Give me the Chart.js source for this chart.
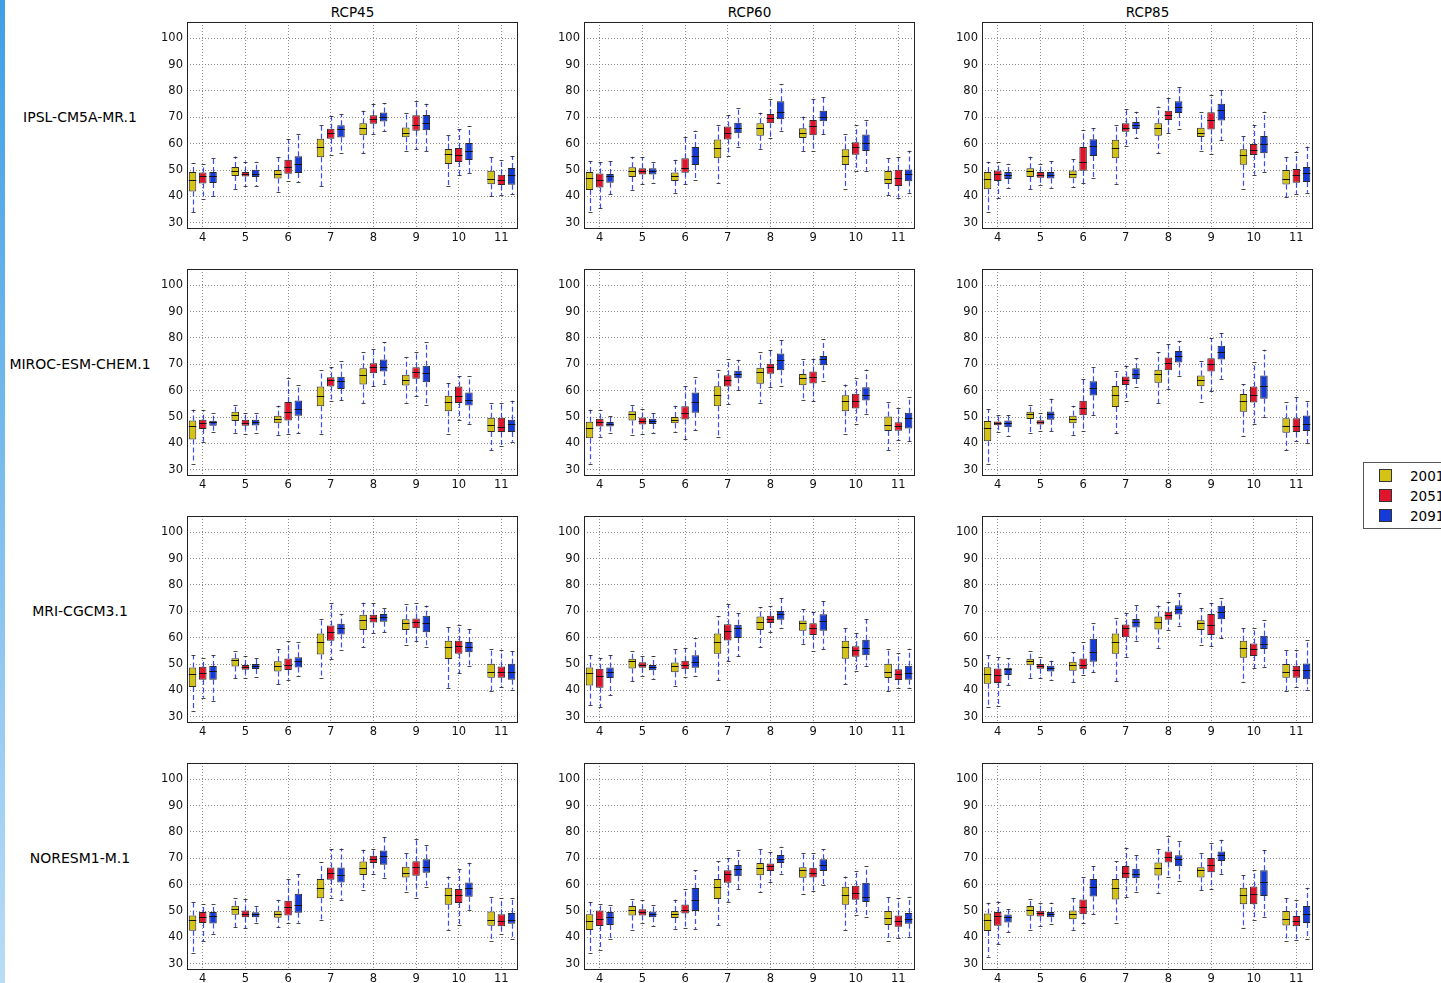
<!DOCTYPE html>
<html>
<head>
<meta charset="utf-8">
<script src="https://cdn.jsdelivr.net/npm/chart.js@4.4.1/dist/chart.umd.min.js"></script>
<style>
  html, body { margin: 0; padding: 0; background: #fff; overflow: hidden; }
  body { width: 1441px; height: 983px; position: relative; font-family: "DejaVu Sans", sans-serif; }
  .stripe { position: absolute; left: 0; top: 0; width: 5px; height: 983px; background: linear-gradient(#3f9fe6, #b9dcf6); }
  .panel { position: absolute; width: 378px; height: 226px; }
  .lbl { position: absolute; font-size: 13.5px; color: #000; white-space: nowrap; transform: translate(-50%, -50%); }
  .lbl.model { font-size: 14px; }
  .legend { position: absolute; left: 1363px; top: 462px; width: 120px; height: 65px; border: 1px solid #555; background: #fff; }
  .legend .row { position: absolute; left: 15px; height: 14px; font-size: 13.5px; line-height: 14px; white-space: nowrap; }
  .legend .sw { display: inline-block; width: 11px; height: 11px; border: 1px solid #333; vertical-align: -1px; margin-right: 18px; }
</style>
</head>
<body>
<div class="stripe"></div>

<script>
// categories
const months = [4, 5, 6, 7, 8, 9, 10, 11];
const yTicks = [30, 40, 50, 60, 70, 80, 90, 100];
const scenarios = ['RCP45', 'RCP60', 'RCP85'];
const models = ['IPSL-CM5A-MR.1', 'MIROC-ESM-CHEM.1', 'MRI-CGCM3.1', 'NORESM1-M.1'];
const periods = ['2001-2010', '2051-2060', '2091-2100'];

// each box: [low whisker, q1, median, q3, high whisker], one row per month 4..11
// three series per panel, in the order of periods
const ipsl45 = [
  [[34.0,41.8,46.3,49.2,52.7],[42.8,47.7,49.6,51.1,55.1],[41.8,46.8,48.4,50.0,55.1],[43.8,54.8,58.9,61.9,67.0],[56.3,63.2,65.9,67.8,72.5],[57.3,62.4,64.1,66.1,71.6],[43.8,52.3,56.2,58.0,63.3],[40.0,44.6,46.7,49.7,54.9]],
  [[39.0,44.9,47.6,49.1,52.3],[43.8,47.5,48.4,49.2,53.2],[45.7,48.6,51.0,53.9,61.6],[55.8,61.9,64.2,65.7,70.4],[63.8,67.6,69.4,70.8,75.2],[58.0,64.9,67.2,70.8,76.1],[48.0,53.0,55.6,58.4,65.4],[40.6,44.3,46.2,48.2,53.7]],
  [[40.0,45.1,47.8,49.2,54.6],[43.8,47.3,48.6,50.1,53.2],[45.3,48.9,52.2,55.2,63.8],[56.3,62.3,65.4,67.0,71.1],[64.8,68.4,70.1,71.8,75.4],[57.2,65.1,68.0,70.9,75.2],[48.7,53.8,57.1,60.3,66.7],[40.9,44.4,48.0,50.8,55.3]]
];
const ipsl60 = [
  [[34.1,42.4,46.8,49.2,53.3],[42.5,47.3,49.6,51.0,55.0],[41.4,45.8,47.8,49.1,53.9],[45.1,54.5,58.2,61.6,67.0],[57.9,63.0,66.0,67.8,71.7],[57.2,62.2,64.0,65.9,70.3],[42.9,51.9,55.5,57.9,63.5],[40.4,44.7,46.7,49.6,54.6]],
  [[35.6,43.4,46.2,48.7,52.9],[44.5,48.3,49.8,50.7,54.8],[44.5,49.0,50.6,54.5,62.6],[55.2,61.6,64.2,66.5,70.7],[62.2,67.8,69.7,71.3,76.9],[57.4,63.2,66.8,69.0,76.9],[49.8,55.8,58.6,60.5,67.1],[39.5,43.9,46.8,50.1,54.9]],
  [[40.8,45.2,47.8,48.5,53.3],[45.2,48.3,49.8,50.7,53.1],[46.3,51.9,55.4,58.7,65.0],[58.9,64.0,65.8,67.9,73.5],[65.0,69.3,72.1,76.1,82.6],[63.6,68.5,70.1,72.5,77.8],[49.8,57.2,60.1,63.5,68.8],[41.4,45.7,48.3,50.2,57.3]]
];
const ipsl85 = [
  [[34.1,42.7,46.4,49.2,53.1],[42.8,47.3,49.6,50.7,55.0],[43.4,46.9,48.5,49.8,54.0],[44.8,54.5,58.2,61.5,67.0],[56.4,63.0,65.9,67.8,74.1],[57.3,62.5,64.1,66.0,71.9],[42.9,52.0,55.8,57.9,63.1],[39.7,44.5,46.7,50.0,54.9]],
  [[39.2,45.8,48.5,49.8,52.9],[44.2,47.1,48.2,49.2,52.4],[44.9,49.7,53.0,58.7,65.3],[59.2,64.5,65.9,67.8,73.1],[63.9,69.0,70.8,72.5,77.2],[55.9,65.4,68.8,71.9,78.3],[48.2,55.7,57.7,59.9,67.1],[41.0,45.2,48.0,50.4,57.0]],
  [[43.3,46.6,48.2,49.2,52.4],[43.3,46.8,48.2,49.2,53.4],[46.8,55.3,59.3,61.7,65.8],[62.0,65.6,67.2,68.2,72.1],[65.6,71.6,74.1,76.1,81.7],[61.5,68.8,72.7,75.2,80.3],[49.3,56.4,59.8,62.9,72.1],[41.4,45.4,49.0,51.1,58.9]]
];
const miroc45 = [
  [[32.3,41.5,46.4,48.7,52.8],[44.0,48.5,50.9,52.0,54.5],[43.3,47.6,49.2,50.5,54.3],[43.7,54.1,57.9,61.6,67.7],[55.3,62.3,66.0,68.5,74.7],[55.5,62.0,64.0,66.0,72.7],[43.7,52.2,55.8,58.1,62.9],[37.5,44.3,47.1,49.7,55.5]],
  [[40.6,45.4,47.8,49.0,52.5],[43.4,46.7,47.7,49.0,51.7],[43.7,48.7,51.9,55.7,65.0],[55.9,61.6,63.9,65.1,69.0],[61.8,66.6,68.9,70.4,75.7],[57.8,64.5,67.0,68.9,74.6],[49.0,55.3,57.8,61.6,65.5],[39.1,44.3,46.1,49.7,55.4]],
  [[44.3,46.7,48.0,48.6,51.4],[43.8,46.8,48.1,49.0,51.7],[43.8,50.5,53.0,56.3,62.3],[56.5,60.6,63.5,65.3,71.4],[62.6,67.3,69.0,71.8,78.4],[54.6,63.2,66.6,69.5,78.4],[47.4,54.4,56.3,59.3,65.5],[40.6,44.3,47.3,49.0,56.2]]
];
const miroc60 = [
  [[32.3,41.9,45.8,48.2,52.8],[43.2,48.7,51.0,52.2,54.6],[44.4,47.6,48.8,50.0,54.3],[42.5,54.1,58.2,61.7,67.9],[55.5,62.6,67.0,68.7,74.8],[56.5,62.1,64.9,66.3,72.2],[43.7,52.2,55.9,58.3,62.3],[37.5,44.7,46.9,50.2,55.7]],
  [[42.5,46.4,48.0,49.3,52.8],[43.7,47.2,48.3,49.8,53.1],[41.5,49.1,51.7,54.1,61.6],[54.9,61.6,64.1,65.9,71.9],[61.5,66.4,68.9,70.2,75.4],[56.0,62.7,65.3,67.3,72.2],[47.3,53.2,56.1,58.8,64.7],[41.1,44.8,46.4,48.0,53.3]],
  [[44.0,46.4,47.4,48.1,50.5],[44.0,47.3,48.3,49.3,51.4],[44.9,51.6,55.8,59.3,65.2],[60.2,64.7,66.5,67.6,71.7],[61.6,67.8,71.7,74.1,79.4],[63.5,69.7,71.9,73.2,79.5],[51.2,56.3,58.4,61.3,68.0],[40.8,45.6,49.5,51.6,57.6]]
];
const miroc85 = [
  [[32.3,40.8,45.8,48.5,52.9],[44.0,49.2,51.1,52.0,54.6],[43.3,47.6,49.3,50.5,54.3],[43.8,53.8,58.3,61.8,67.3],[55.3,63.0,66.4,67.9,74.7],[55.8,61.7,64.0,65.8,71.2],[42.7,52.0,56.2,58.7,62.5],[37.5,44.0,46.7,49.5,55.7]],
  [[44.3,46.9,47.7,48.3,50.6],[44.7,47.2,48.1,48.8,51.6],[44.8,50.7,53.4,56.2,64.5],[55.9,62.2,63.9,65.4,69.5],[60.7,67.8,70.4,72.6,77.9],[59.7,67.3,70.1,72.3,80.0],[47.3,55.5,58.3,61.6,70.7],[40.8,44.3,46.7,49.5,57.6]],
  [[42.9,46.1,47.7,48.7,50.7],[44.7,49.0,51.0,52.1,56.9],[50.7,58.2,61.1,63.6,68.8],[61.5,64.4,66.4,68.5,72.3],[65.6,70.7,73.3,75.1,79.0],[64.5,71.8,74.8,77.1,81.9],[50.1,56.9,61.6,65.8,75.5],[40.1,44.7,47.4,50.6,55.9]]
];
const mri45 = [
  [[32.0,41.3,46.3,48.7,53.3],[44.5,49.1,51.4,52.2,54.9],[42.3,47.2,49.2,51.0,55.7],[44.5,53.6,58.2,61.6,66.9],[56.3,62.9,66.6,68.7,73.3],[57.3,62.9,65.6,67.0,72.8],[41.0,51.9,56.3,58.8,63.9],[39.7,44.8,47.1,50.1,55.7]],
  [[37.2,44.0,46.4,49.0,52.1],[44.5,47.8,48.7,49.6,53.0],[44.0,47.7,49.6,52.1,58.7],[51.9,58.8,62.3,64.6,73.0],[61.8,65.8,67.3,68.7,73.0],[58.6,63.6,66.0,67.3,73.2],[46.4,53.9,56.9,58.8,65.0],[41.1,44.8,46.8,49.1,55.4]],
  [[35.8,44.0,47.2,49.2,53.3],[45.1,48.1,49.1,50.0,52.1],[45.3,48.7,51.1,52.6,58.4],[55.2,61.2,63.5,65.3,69.0],[62.2,66.0,67.7,69.0,71.3],[56.5,62.1,65.6,68.3,72.2],[49.1,54.5,56.5,58.4,63.4],[40.3,44.0,46.9,50.1,54.8]]
];
const mri60 = [
  [[34.3,41.8,46.4,48.7,53.3],[43.5,48.3,51.0,52.0,54.8],[41.8,46.9,49.1,50.6,55.7],[43.9,53.9,58.2,61.6,68.2],[56.4,62.9,66.0,68.0,71.6],[57.7,62.6,65.5,66.5,70.7],[42.4,52.0,56.4,58.8,63.6],[39.6,44.7,47.1,50.1,55.7]],
  [[33.6,41.0,45.6,48.2,52.2],[45.4,48.6,49.6,50.7,53.0],[45.1,48.0,49.6,51.2,56.2],[51.0,58.9,62.7,65.1,72.6],[62.2,65.6,67.1,68.3,71.9],[54.9,61.0,63.7,65.5,69.8],[47.2,52.8,55.2,56.7,61.7],[40.8,43.9,46.1,48.0,54.1]],
  [[38.1,44.7,46.8,48.7,53.3],[44.2,47.6,48.8,49.6,53.0],[45.3,48.6,50.6,53.3,59.9],[53.0,59.9,63.6,64.9,69.4],[63.6,66.8,69.0,70.1,75.0],[55.7,62.6,66.3,68.9,73.8],[49.3,53.3,56.2,59.2,67.1],[40.8,44.0,46.6,49.3,55.8]]
];
const mri85 = [
  [[33.7,42.5,46.1,48.8,53.3],[44.8,49.5,51.0,52.0,54.9],[43.0,47.4,49.6,50.9,54.6],[43.5,53.9,58.2,61.6,67.4],[56.2,63.1,66.0,68.0,72.2],[57.3,62.9,65.4,66.6,71.2],[43.2,52.4,56.2,58.8,63.6],[39.6,44.8,47.1,50.0,55.5]],
  [[33.9,42.8,45.9,48.3,52.6],[44.8,48.2,49.2,50.0,52.6],[45.7,48.0,49.7,52.1,58.4],[52.8,60.2,63.5,65.0,69.3],[63.0,66.8,68.7,69.8,73.6],[56.8,61.0,64.7,69.0,73.3],[48.3,53.0,55.7,57.8,63.5],[41.4,44.8,47.8,49.3,55.5]],
  [[41.9,45.8,48.0,48.6,52.1],[43.9,47.2,48.3,49.3,51.2],[46.8,50.9,54.5,59.6,65.5],[58.9,63.9,65.9,67.1,72.3],[64.6,68.8,70.9,72.3,77.0],[59.9,67.0,69.8,72.1,75.2],[49.0,55.7,57.7,60.7,66.8],[40.3,44.2,47.7,50.2,59.2]]
];
const noresm45 = [
  [[33.9,42.5,46.4,48.3,53.4],[43.9,48.6,50.7,52.0,54.9],[43.8,47.4,48.8,50.1,54.3],[46.6,54.8,58.7,62.2,68.6],[57.8,63.7,66.2,68.8,73.3],[57.2,62.7,64.6,66.8,72.2],[42.9,52.4,56.2,58.8,63.1],[38.7,44.4,46.6,49.8,55.2]],
  [[38.5,45.4,47.6,49.6,52.5],[43.5,47.6,49.0,50.2,54.5],[45.3,48.3,51.4,53.9,62.1],[55.1,61.9,64.6,66.5,73.5],[64.1,68.2,69.9,71.0,73.7],[54.9,63.4,66.6,68.9,77.2],[44.7,53.0,55.9,58.4,65.9],[41.4,44.2,46.3,48.8,54.8]],
  [[41.4,45.3,48.1,49.6,52.5],[45.4,47.6,48.7,49.5,52.0],[45.5,49.3,52.2,56.6,64.0],[54.2,60.8,63.8,66.5,73.7],[62.7,67.6,70.9,73.0,78.1],[59.1,64.5,66.6,69.7,75.1],[50.4,55.4,58.7,60.8,68.3],[39.5,45.2,46.7,49.2,54.8]]
];
const noresm60 = [
  [[33.9,42.8,46.3,48.8,53.4],[42.7,48.3,50.2,51.9,54.5],[43.3,47.3,48.7,50.0,54.3],[44.7,54.6,59.0,62.2,68.8],[57.2,63.6,66.5,68.2,73.4],[56.3,62.6,65.5,66.6,72.2],[42.9,52.4,55.9,59.2,63.1],[38.7,44.7,47.2,50.0,55.2]],
  [[35.2,44.3,47.1,50.2,52.5],[45.4,48.3,49.6,50.7,54.0],[43.7,49.1,50.2,52.5,58.2],[53.5,60.7,64.0,65.5,70.1],[61.1,65.2,66.9,68.0,72.3],[57.7,62.7,64.5,66.4,72.2],[48.6,54.3,57.0,59.6,65.3],[39.9,44.0,46.3,48.3,54.9]],
  [[39.4,44.7,47.7,49.6,52.4],[44.3,47.6,48.8,49.8,52.4],[43.2,50.0,54.1,58.7,65.5],[58.4,63.2,66.0,67.5,73.2],[64.2,68.2,69.9,71.3,74.4],[59.9,65.2,67.4,69.7,73.4],[47.9,53.4,55.4,60.7,67.0],[40.1,45.2,47.1,49.2,55.4]]
];
const noresm85 = [
  [[32.7,42.4,46.6,49.1,53.1],[42.7,48.2,50.3,51.9,54.4],[42.9,46.9,49.0,50.2,54.9],[45.4,54.4,58.7,62.2,68.8],[56.9,63.5,66.2,68.4,73.4],[57.8,62.7,65.4,66.6,72.2],[43.5,52.6,56.2,58.8,63.5],[38.7,44.5,46.9,50.0,55.0]],
  [[37.5,44.4,48.1,49.6,53.6],[44.4,47.9,49.2,50.1,53.2],[45.3,48.8,51.4,54.4,63.0],[55.3,62.4,64.6,67.1,74.0],[63.1,68.4,70.4,72.6,78.3],[58.4,64.7,67.3,70.1,76.0],[46.6,52.6,56.3,59.3,65.6],[39.0,44.2,46.2,48.1,54.3]],
  [[41.9,45.6,47.9,48.7,50.7],[44.9,47.6,48.7,49.6,53.2],[48.7,55.5,59.0,62.2,67.1],[57.4,62.4,64.0,66.0,71.2],[61.3,67.0,69.7,71.2,76.7],[64.1,69.0,71.1,72.6,77.1],[47.9,55.7,61.1,65.5,73.2],[39.5,45.4,48.8,51.9,58.8]]
];

const grid = [
  [ipsl45, ipsl60, ipsl85],
  [miroc45, miroc60, miroc85],
  [mri45, mri60, mri85],
  [noresm45, noresm60, noresm85]
];

const fills = ['rgba(208,190,0,0.92)', 'rgba(222,0,28,0.92)', 'rgba(0,42,212,0.92)'];
const shift = [-0.24, 0, 0.24];
const colLeft = [187, 584, 982];
const rowTop = [22, 269, 516, 763];

Chart.defaults.font.family = 'DejaVu Sans';

// whiskers, caps and medians drawn around the floating bars
const boxPlugin = {
  id: 'boxes',
  beforeDatasetsDraw(chart) {
    const ctx = chart.ctx, y = chart.scales.y;
    ctx.save();
    chart.data.datasets.forEach((ds, k) => {
      chart.getDatasetMeta(k).data.forEach((bar, i) => {
        const b = ds.boxes[i];
        const x = Math.round(bar.x) + 0.5;
        ctx.setLineDash([5, 3]);
        ctx.strokeStyle = 'rgba(25,45,255,0.85)';
        ctx.lineWidth = 1.2;
        ctx.beginPath();
        ctx.moveTo(x, y.getPixelForValue(b[3]));
        ctx.lineTo(x, y.getPixelForValue(b[4]));
        ctx.moveTo(x, y.getPixelForValue(b[1]));
        ctx.lineTo(x, y.getPixelForValue(b[0]));
        ctx.stroke();
        ctx.setLineDash([]);
        ctx.lineWidth = 1;
        ctx.strokeStyle = 'rgba(40,40,40,0.85)';
        ctx.beginPath();
        [b[0], b[4]].forEach(v => {
          const py = Math.round(y.getPixelForValue(v)) + 0.5;
          ctx.moveTo(x - 2, py);
          ctx.lineTo(x + 2, py);
        });
        ctx.stroke();
      });
    });
    ctx.restore();
  },
  afterDatasetsDraw(chart) {
    const ctx = chart.ctx, y = chart.scales.y;
    ctx.save();
    ctx.strokeStyle = '#111';
    ctx.lineWidth = 1;
    chart.data.datasets.forEach((ds, k) => {
      chart.getDatasetMeta(k).data.forEach((bar, i) => {
        const py = Math.round(y.getPixelForValue(ds.boxes[i][2])) + 0.5;
        ctx.beginPath();
        ctx.moveTo(bar.x - bar.width / 2, py);
        ctx.lineTo(bar.x + bar.width / 2, py);
        ctx.stroke();
      });
    });
    const a = chart.chartArea;
    ctx.strokeStyle = '#222';
    ctx.strokeRect(a.left + 0.5, a.top + 0.5, a.right - a.left - 1, a.bottom - a.top - 1);
    ctx.restore();
  }
};

function makePanel(canvas, series) {
  return new Chart(canvas, {
    type: 'bar',
    data: {
      datasets: series.map((boxes, k) => ({
        label: periods[k],
        data: boxes.map((b, i) => ({ x: months[i] + shift[k], y: [b[1], b[3]] })),
        boxes: boxes,
        backgroundColor: fills[k],
        borderColor: '#2a2a2a',
        borderWidth: 1,
        borderSkipped: false,
        grouped: false,
        barPercentage: 1,
        maxBarThickness: 7.5
      }))
    },
    options: {
      responsive: false,
      animation: false,
      devicePixelRatio: 1,
      layout: { padding: { top: 1, right: 2, left: 0, bottom: 0 } },
      plugins: { legend: { display: false }, tooltip: { enabled: false } },
      scales: {
        x: {
          type: 'linear', bounds: 'data', min: 3.63, max: 11.39, offset: false,
          afterBuildTicks: s => { s.ticks = months.map(v => ({ value: v })); },
          afterFit: s => { s.height = 18; s.paddingLeft = 0; s.paddingRight = 0; },
          ticks: { padding: 2, color: '#111', font: { size: 11.5 }, maxRotation: 0, autoSkip: false },
          grid: { color: '#8c8c8c', drawTicks: false, offset: false },
          border: { display: false, dash: [1, 2] }
        },
        y: {
          type: 'linear', bounds: 'data', min: 27.6, max: 106.2,
          afterBuildTicks: s => { s.ticks = yTicks.map(v => ({ value: v })); },
          afterFit: s => { s.width = 45; s.paddingTop = 0; s.paddingBottom = 0; },
          ticks: { padding: 4, color: '#111', font: { size: 11.5 } },
          grid: { color: '#8c8c8c', drawTicks: false },
          border: { display: false, dash: [1, 2] }
        }
      }
    },
    plugins: [boxPlugin]
  });
}

function addText(txt, x, y, cls) {
  const d = document.createElement('div');
  d.className = 'lbl' + (cls ? ' ' + cls : '');
  d.style.left = x + 'px';
  d.style.top = y + 'px';
  d.textContent = txt;
  document.body.appendChild(d);
}

scenarios.forEach((s, c) => addText(s, colLeft[c] + 165.5, 12));
models.forEach((m, r) => addText(m, 80, rowTop[r] + 95, 'model'));

grid.forEach((row, r) => {
  row.forEach((series, c) => {
    const cv = document.createElement('canvas');
    cv.className = 'panel';
    cv.width = 378;
    cv.height = 226;
    cv.style.left = (colLeft[c] - 45) + 'px';
    cv.style.top = (rowTop[r] - 1) + 'px';
    document.body.appendChild(cv);
    makePanel(cv, series);
  });
});

// legend box at the right edge
const lg = document.createElement('div');
lg.className = 'legend';
periods.forEach((p, k) => {
  const r = document.createElement('div');
  r.className = 'row';
  r.style.top = (6 + k * 20) + 'px';
  const sw = document.createElement('span');
  sw.className = 'sw';
  sw.style.background = fills[k];
  r.appendChild(sw);
  r.appendChild(document.createTextNode(p));
  lg.appendChild(r);
});
document.body.appendChild(lg);
</script>
</body>
</html>
